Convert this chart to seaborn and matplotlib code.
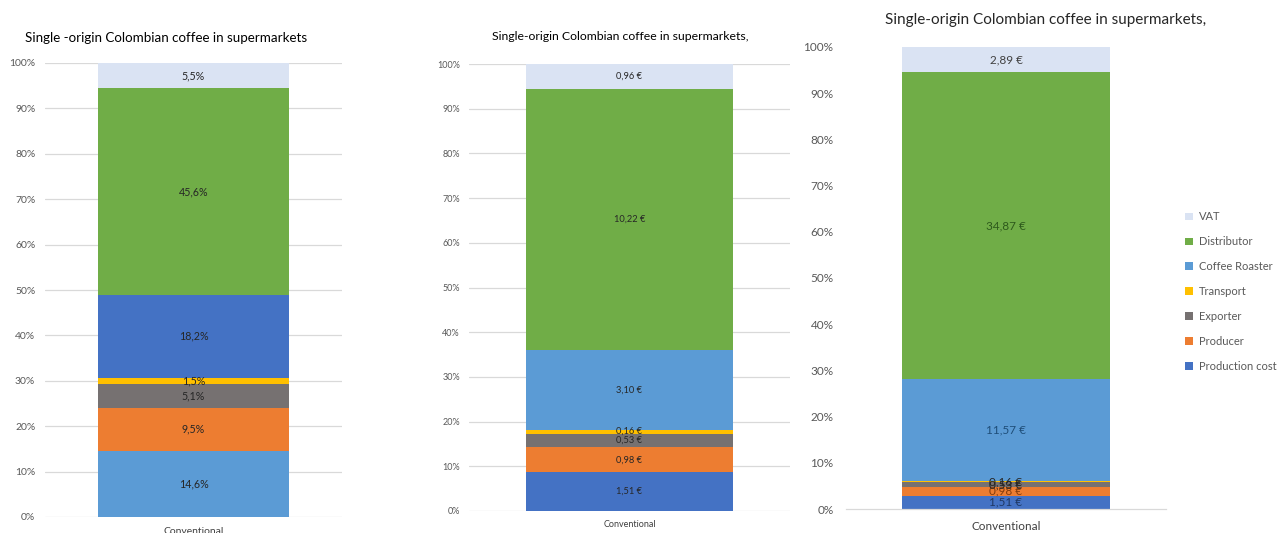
import pandas as pd
import seaborn as sns
import matplotlib.pyplot as plt
from matplotlib.patches import Patch

# chain segments, bottom to top
segments = ["Production cost", "Producer", "Exporter", "Transport",
            "Coffee Roaster", "Distributor", "VAT"]
share_pct = [14.6, 9.5, 5.1, 1.5, 18.2, 45.6, 5.5]
price_mid = [1.51, 0.98, 0.53, 0.16, 3.10, 10.22, 0.96]
price_right = [1.51, 0.98, 0.53, 0.16, 11.57, 34.87, 2.89]
category = "Conventional"

colors = ["#4472C4", "#ED7D31", "#767171", "#FFC000", "#5B9BD5", "#70AD47", "#DAE3F3"]
# first chart has the two blues swapped
colors_left = ["#5B9BD5", "#ED7D31", "#767171", "#FFC000", "#4472C4", "#70AD47", "#DAE3F3"]
label_dark = ["#1F3864", "#843C0C", "#262626", "#262626", "#1F4E79", "#2E5A1C", "#404040"]

W, H = 1277, 533
sns.set_theme(style="white")
plt.rcParams['font.family'] = ['Lato', 'DejaVu Sans']
fig = plt.figure(figsize=(W / 100, H / 100), dpi=100)


def px_axes(left, right, top, bottom):
    return fig.add_axes([left / W, 1 - bottom / H, (right - left) / W, (bottom - top) / H])


def stacked(ax, values, cols, texts, width, fs, tcolors, grid=True, tick_fs=7, pad=7):
    df = pd.DataFrame({"segment": segments, "value": values})
    df["pct"] = df["value"] / df["value"].sum() * 100
    df["top"] = df["pct"].cumsum()
    df["mid"] = df["top"] - df["pct"] / 2
    # draw cumulative heights, tallest first, so lower segments overlay
    for i in range(len(df) - 1, -1, -1):
        sns.barplot(x=[category], y=[df["top"].iloc[i]], color=cols[i], width=width,
                    saturation=1, linewidth=0, ax=ax)
    for i in range(len(df)):
        ax.text(0, df["mid"].iloc[i], texts[i], ha="center", va="center",
                fontsize=fs, color=tcolors[i])
    ax.set_xlim(-0.5, 0.5)
    ax.set_ylim(0, 100)
    ax.set_yticks(range(0, 101, 10))
    ax.set_yticklabels([f"{v}%" for v in range(0, 101, 10)])
    ax.tick_params(axis="y", labelsize=tick_fs, colors="#595959", length=0, pad=pad)
    ax.tick_params(axis="x", labelsize=tick_fs, colors="#404040", length=0, pad=pad)
    ax.set_xlabel("")
    ax.set_ylabel("")
    for s in ax.spines.values():
        s.set_visible(False)
    if grid:
        ax.yaxis.grid(True, color="#D9D9D9", linewidth=0.9)
        ax.set_axisbelow(True)
    else:
        ax.spines["bottom"].set_visible(True)
        ax.spines["bottom"].set_color("#D9D9D9")
        ax.spines["bottom"].set_linewidth(0.9)


# left: shares
ax1 = px_axes(45, 342, 63, 517)
stacked(ax1, share_pct, colors_left, [f"{v:.1f}%".replace(".", ",") for v in share_pct],
        0.643, 7.7, ["#262626"] * 7, tick_fs=7.5, pad=7)
fig.text(25 / W, 1 - 38 / H, "Single -origin Colombian coffee in supermarkets",
         ha="left", va="center", fontsize=9.6, color="#000000")

# middle: prices
ax2 = px_axes(469, 790, 64, 511)
stacked(ax2, price_mid, colors, [f"{v:.2f} €".replace(".", ",") for v in price_mid],
        0.642, 6.7, ["#262626"] * 7, tick_fs=6.5, pad=6.5)
fig.text(620 / W, 1 - 37 / H, "Single-origin Colombian coffee in supermarkets,",
         ha="center", va="center", fontsize=8.8, color="#000000")

# right: prices with legend
ax3 = px_axes(846, 1166, 47, 509)
stacked(ax3, price_right, colors, [f"{v:.2f} €".replace(".", ",") for v in price_right],
        0.647, 8.5, label_dark, grid=False, tick_fs=8.5, pad=9)
fig.text(1046 / W, 1 - 20 / H, "Single-origin Colombian coffee in supermarkets,",
         ha="center", va="center", fontsize=11, color="#262626")

handles = [Patch(facecolor=colors[i], edgecolor="none", label=segments[i])
           for i in range(len(segments) - 1, -1, -1)]
fig.legend(handles=handles, loc="upper left", bbox_to_anchor=(1181 / W, 1 - 207 / H),
           frameon=False, fontsize=8, labelcolor="#595959", handlelength=0.7,
           handleheight=0.7, handletextpad=0.5, labelspacing=1.25, borderaxespad=0)

fig.savefig("out.png", dpi=100, facecolor="white")
